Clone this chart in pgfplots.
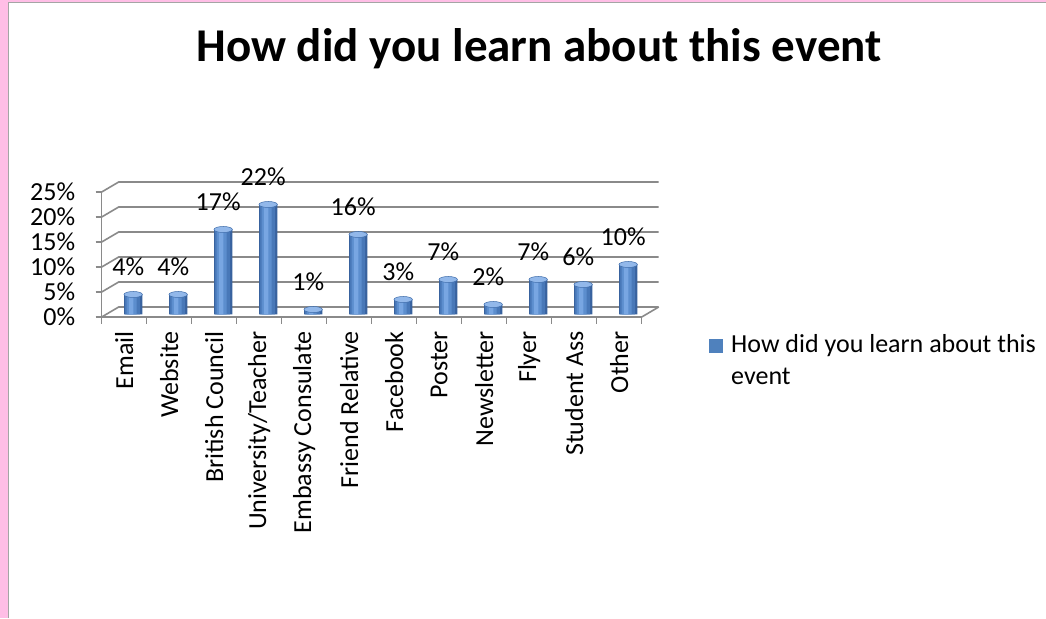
\documentclass[border=0pt]{standalone}
\usepackage{pgfplots}
\pgfplotsset{compat=1.18}
\usepackage{fontspec}
\setmainfont{Carlito}
\definecolor{pinkbg}{RGB}{255,190,230}
\definecolor{framegray}{RGB}{165,165,165}
\definecolor{gridc}{RGB}{138,138,138}
\definecolor{barA}{RGB}{56,98,158}
\definecolor{barB}{RGB}{72,120,184}
\definecolor{barC}{RGB}{92,142,206}
\definecolor{barD}{RGB}{120,166,226}
\definecolor{barEdge}{RGB}{62,108,170}
\definecolor{barTop}{RGB}{146,184,234}
\definecolor{barBlue}{RGB}{79,129,189}
\pgfdeclareplotmark{cyltop}{%
  \pgfpathellipse{\pgfpointorigin}{\pgfpoint{9.2pt}{0pt}}{\pgfpoint{0pt}{3pt}}%
  \pgfusepathqfillstroke}
\pgfplotstableread{
x y
0.5 4
1.5 4
2.5 17
3.5 22
4.5 1
5.5 16
6.5 3
7.5 7
8.5 2
9.5 7
10.5 6
11.5 10
}\datatable
\begin{document}
\begin{tikzpicture}
\useasboundingbox (0,0) rectangle (1046pt,618pt);
\fill[pinkbg] (0,0) rectangle (1046pt,618pt);
\fill[white] (9pt,0) rectangle (1046pt,615pt);
\draw[framegray, line width=1pt] (8.5pt,0) -- (8.5pt,615.5pt) -- (1046pt,615.5pt);

\begin{axis}[
  at={(101.7pt,301pt)}, anchor=south west,
  scale only axis, width=540pt, height=125pt,
  xmin=0, xmax=12, ymin=0, ymax=25,
  axis lines*=left,
  axis line style={gridc, line width=1.5pt},
  every tick/.style={gridc, line width=1.5pt},
  tick align=outside,
  major tick length=6pt, minor tick length=7pt,
  xtick={0.5,1.5,...,11.5},
  every major x tick/.append style={draw=none},
  minor xtick={0,1,...,12},
  xticklabels={Email,Website,British Council,University/Teacher,Embassy Consulate,Friend Relative,Facebook,Poster,Newsletter,Flyer,Student Ass,Other},
  xticklabel style={rotate=90, anchor=east, font=\fontsize{26}{31}\selectfont},
  xticklabel shift=5pt,
  ytick={0,5,...,25},
  yticklabels={0\%,5\%,10\%,15\%,20\%,25\%},
  yticklabel style={anchor=east, font=\fontsize{26}{31}\selectfont},
  yticklabel shift=17pt,
  title={How did you learn about this event},
  title style={at={(axis description cs:0.8098,1.992)}, anchor=base, font=\fontsize{47}{56}\selectfont\bfseries},
  clip=false,
]
\pgfplotsinvokeforeach{0,5,10,15,20,25}{
  \draw[gridc, line width=1.6pt] (axis cs:0,#1) -- ([shift={(17pt,10pt)}]axis cs:0,#1) -- ([shift={(17pt,10pt)}]axis cs:12,#1);
}
\draw[gridc, line width=1.6pt] (axis cs:12,0) -- ([shift={(17pt,10pt)}]axis cs:12,0);
\end{axis}

\begin{axis}[
  at={(110.7pt,303.5pt)}, anchor=south west,
  scale only axis, width=540pt, height=125pt,
  xmin=0, xmax=12, ymin=0, ymax=25,
  hide axis, clip=false,
  /pgf/number format/assume math mode=true,
  legend style={at={(axis description cs:1.108,-0.108)}, anchor=north west, draw=none, fill=none, inner sep=0pt,
    cells={anchor=base west}, column sep=0pt, font=\fontsize{26}{32}\selectfont},
]
\addplot[ybar, bar width=18.4pt, bar shift=0pt, draw=none, fill=barA,
  legend image code/.code={\fill[barBlue] (0pt,0pt) rectangle (14pt,14pt);}]
  table[x=x, y=y] {\datatable};
\addlegendentry{\hspace{6pt}\begin{tabular}[t]{@{}l@{}}How did you learn about this\\event\end{tabular}}
\addplot[ybar, bar width=15pt, bar shift=-0.6pt, draw=none, fill=barB, forget plot]
  table[x=x, y=y] {\datatable};
\addplot[ybar, bar width=10pt, bar shift=-1.6pt, draw=none, fill=barC, forget plot]
  table[x=x, y=y] {\datatable};
\addplot[ybar, bar width=4.5pt, bar shift=-2.2pt, draw=none, fill=barD, forget plot]
  table[x=x, y=y] {\datatable};
\addplot[only marks, mark=cyltop, mark options={fill=barTop, draw=barEdge, line width=0.5pt}, forget plot,
  nodes near coords={\pgfmathprintnumber{\pgfplotspointmeta}\%},
  nodes near coords style={anchor=center, yshift=27.5pt, xshift=-5pt, font=\fontsize{26}{31}\selectfont, text=black}]
  table[x=x, y=y] {\datatable};
\end{axis}
\end{tikzpicture}
\end{document}
